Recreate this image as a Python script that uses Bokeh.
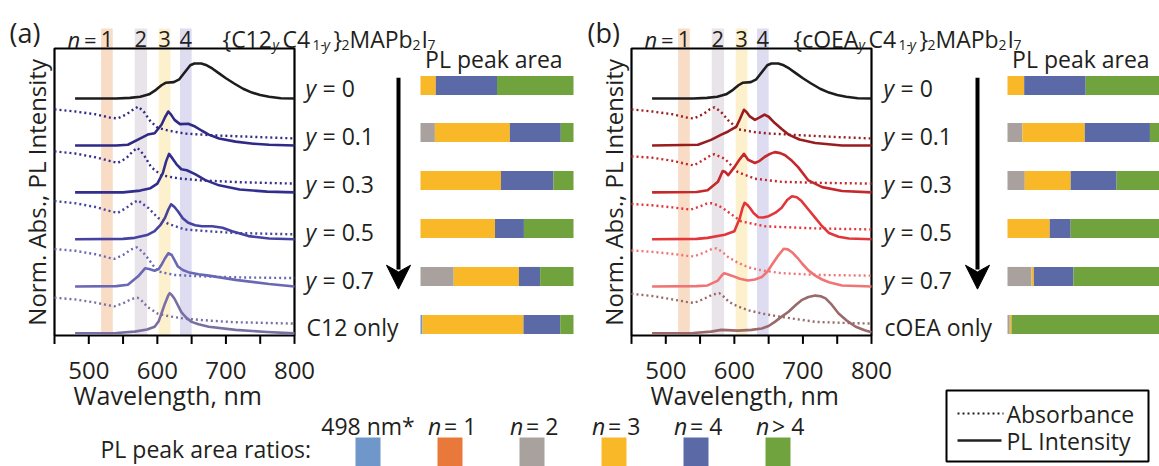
import numpy as np
from bokeh.plotting import figure
from bokeh.models import Range1d
from bokeh.core.properties import value
from bokeh.embed import file_html
from bokeh.resources import INLINE

# ---------------------------------------------------------------- data
# Spectra: (wavelength nm, normalised intensity) pairs, one list per trace.
# Each row of a panel is stacked on its own baseline offset.
ROW_OFFSET = [6.77, 5.43, 4.09, 2.75, 1.40, 0.06]

PL_Y0 = [(480, 0), (540, 0), (560, 0.02), (575, 0.05), (588, 0.12), (598, 0.25),
         (606, 0.38), (612, 0.45), (624, 0.47), (632, 0.55), (640, 0.75), (648, 0.95),
         (654, 1.0), (664, 1.0), (672, 0.95), (680, 0.86), (690, 0.72), (700, 0.58),
         (712, 0.43), (725, 0.28), (738, 0.17), (750, 0.1), (763, 0.05), (780, 0.01), (800, 0)]

# panel (a): {C12_y C4_1-y}2 MAPb2I7
A_ABS_01 = [(450, 1.03), (480, 0.97), (510, 0.89), (530, 0.8), (542, 0.77), (555, 0.89),
            (565, 1.03), (572, 1.11), (580, 0.97), (590, 0.69), (600, 0.51), (615, 0.43),
            (640, 0.34), (680, 0.29), (720, 0.26), (760, 0.23), (800, 0.2)]
A_PL_01 = [(480, 0), (540, 0), (557, 0.02), (576, 0.21), (586, 0.31), (596, 0.35), (606, 0.59),
           (611, 0.8), (616, 0.97), (620, 0.88), (625, 0.73), (633, 0.61), (645, 0.62),
           (655, 0.54), (665, 0.42), (675, 0.31), (690, 0.2), (714, 0.11), (740, 0.05),
           (763, 0.02), (800, 0)]
A_ABS_03 = [(450, 1.17), (480, 1.11), (510, 1.0), (530, 0.9), (542, 0.84), (555, 0.98),
            (564, 1.17), (571, 1.27), (580, 1.08), (591, 0.72), (606, 0.49), (630, 0.4),
            (665, 0.34), (720, 0.29), (800, 0.25)]
A_PL_03 = [(480, 0), (550, 0), (575, 0.05), (590, 0.12), (600, 0.25), (608, 0.55), (613, 0.9),
           (617, 1.1), (622, 0.97), (628, 0.8), (635, 0.66), (643, 0.63), (655, 0.52),
           (670, 0.35), (690, 0.2), (720, 0.08), (760, 0.02), (800, 0)]
A_ABS_05 = [(450, 1.09), (480, 1.03), (510, 0.92), (530, 0.81), (542, 0.75), (555, 0.9),
            (565, 1.05), (572, 1.11), (587, 0.89), (601, 0.61), (616, 0.44), (640, 0.28),
            (680, 0.22), (713, 0.18), (800, 0.14)]
A_PL_05 = [(480, 0), (550, 0.01), (567, 0.04), (585, 0.12), (596, 0.23), (605, 0.42),
           (611, 0.61), (616, 0.85), (620, 1.0), (625, 0.92), (630, 0.8), (637, 0.6),
           (645, 0.47), (655, 0.4), (665, 0.37), (680, 0.37), (695, 0.33), (709, 0.23),
           (733, 0.09), (763, 0.02), (800, 0)]
A_ABS_07 = [(450, 1.07), (480, 1.02), (510, 0.92), (530, 0.82), (537, 0.79), (550, 0.9),
            (562, 1.06), (570, 1.12), (578, 1.0), (586, 0.81), (594, 0.6), (601, 0.43),
            (625, 0.33), (665, 0.29), (720, 0.26), (800, 0.24)]
A_PL_07 = [(480, 0), (540, 0.01), (557, 0.05), (572, 0.29), (582, 0.52), (588, 0.5),
           (596, 0.45), (602, 0.5), (606, 0.62), (611, 0.8), (616, 0.95), (621, 0.9),
           (626, 0.72), (630, 0.57), (637, 0.47), (645, 0.41), (660, 0.35), (675, 0.31),
           (714, 0.19), (763, 0.07), (800, 0)]
A_ABS_ONLY = [(450, 1.02), (480, 0.97), (510, 0.88), (530, 0.8), (537, 0.77), (550, 0.86),
              (562, 0.98), (571, 1.02), (578, 0.92), (586, 0.75), (601, 0.56), (620, 0.48),
              (640, 0.42), (680, 0.36), (713, 0.32), (800, 0.28)]
A_PL_ONLY = [(480, 0), (540, 0.01), (567, 0.05), (585, 0.11), (596, 0.19), (602, 0.35),
             (606, 0.57), (611, 0.85), (616, 1.09), (618, 1.15), (621, 1.1), (625, 0.99),
             (630, 0.8), (635, 0.61), (642, 0.45), (650, 0.33), (660, 0.26), (675, 0.19),
             (714, 0.1), (760, 0.04), (800, 0)]

# panel (b): {cOEA_y C4_1-y}2 MAPb2I7
B_ABS_01 = [(450, 1.03), (480, 0.97), (510, 0.89), (530, 0.8), (541, 0.77), (555, 0.9),
            (564, 1.03), (571, 1.09), (580, 0.97), (592, 0.7), (606, 0.46), (630, 0.38),
            (650, 0.34), (700, 0.29), (750, 0.24), (800, 0.2)]
B_PL_01 = [(480, 0), (547, 0.02), (566, 0.16), (581, 0.31), (591, 0.4), (603, 0.54),
           (608, 0.75), (614, 1.02), (618, 0.95), (622.5, 0.83), (630, 0.73), (637, 0.8),
           (644, 0.88), (650, 0.82), (659, 0.64), (669, 0.47), (679, 0.31), (695, 0.17),
           (718, 0.07), (757, 0.0), (800, 0)]
B_ABS_03 = [(450, 1.03), (480, 0.99), (510, 0.9), (530, 0.81), (541, 0.77), (555, 0.93),
            (565, 1.05), (571, 1.09), (586, 0.96), (596, 0.76), (605, 0.58), (630, 0.39),
            (669, 0.3), (730, 0.27), (800, 0.25)]
B_PL_03 = [(480, 0), (545, 0.01), (561, 0.06), (576, 0.3), (583, 0.61), (587, 0.58),
           (591, 0.49), (600, 0.72), (608, 0.95), (614, 1.1), (620, 0.93), (630, 0.84),
           (637, 0.9), (644, 1.01), (652, 1.1), (659, 1.15), (667, 1.12), (674, 1.06),
           (684, 0.9), (693, 0.72), (708, 0.34), (728, 0.15), (757, 0.04), (800, 0)]
B_ABS_05 = [(450, 1.01), (480, 0.97), (510, 0.91), (530, 0.86), (537, 0.85), (550, 0.94),
            (560, 1.02), (566, 1.03), (576, 0.97), (586, 0.85), (600, 0.65), (610, 0.51),
            (645, 0.37), (718, 0.31), (800, 0.28)]
B_PL_05 = [(480, 0), (545, 0.01), (561, 0.04), (586, 0.13), (600, 0.23), (608, 0.61),
           (612, 0.9), (615, 1.04), (619, 0.98), (622.5, 0.9), (628, 0.75), (635, 0.63),
           (642, 0.62), (650, 0.66), (660, 0.76), (669, 0.9), (677, 1.12), (684, 1.23),
           (691, 1.2), (698, 1.09), (708, 0.85), (718, 0.61), (728, 0.37), (738, 0.18),
           (752, 0.07), (767, 0.02), (800, 0)]
B_ABS_07 = [(450, 1.03), (480, 0.99), (510, 0.93), (530, 0.88), (541, 0.86), (555, 0.96),
            (566, 1.06), (574, 1.09), (583, 0.98), (591, 0.84), (605, 0.68), (620, 0.55),
            (640, 0.46), (669, 0.38), (720, 0.33), (800, 0.31)]
B_PL_07 = [(480, 0), (545, 0.01), (561, 0.03), (576, 0.17), (581, 0.3), (585, 0.38),
           (590, 0.35), (596, 0.31), (608, 0.22), (620, 0.17), (630, 0.2), (640, 0.27),
           (648, 0.42), (654, 0.6), (663, 0.86), (672, 1.08), (678, 1.06), (684, 0.98),
           (692, 0.82), (699, 0.65), (708, 0.46), (718, 0.31), (728, 0.2), (738, 0.12),
           (757, 0.03), (800, 0)]
B_ABS_ONLY = [(450, 1.13), (480, 1.07), (510, 0.97), (530, 0.9), (541, 0.87), (555, 0.98),
              (568, 1.11), (578, 1.15), (585, 1.04), (592, 0.9), (605, 0.77), (620, 0.66),
              (645, 0.55), (669, 0.47), (718, 0.33), (760, 0.3), (800, 0.28)]
B_PL_ONLY = [(480, 0), (540, 0.01), (566, 0.05), (581, 0.1), (605, 0.08), (625, 0.1),
             (640, 0.14), (650, 0.21), (659, 0.33), (669, 0.48), (679, 0.62), (690, 0.82),
             (698, 0.95), (708, 1.04), (718, 1.08), (726, 1.06), (733, 1.0), (742, 0.82),
             (752, 0.57), (765, 0.35), (777, 0.19), (790, 0.09), (800, 0.03)]

A_COLORS = ["#1e1c1d", "#2e2a86", "#322e8d", "#4542a0", "#6a68b4", "#7a6fa3"]
B_COLORS = ["#1e1c1d", "#991d1f", "#c4282b", "#e3363b", "#f07474", "#9a6a6a"]

ROW_LABELS_A = ["0", "0.1", "0.3", "0.5", "0.7", "C12 only"]
ROW_LABELS_B = ["0", "0.1", "0.3", "0.5", "0.7", "cOEA only"]

# quantum-well bands (nm) marking the n = 1..4 excitons
BAND_NAMES = ["1", "2", "3", "4"]
BAND_LO = [518, 567, 602, 633]
BAND_HI = [535, 585, 619, 650]
BAND_COLORS = ["#f9dcc6", "#e9e4e9", "#fdf0cc", "#dedcf0"]

WL_TICKS = [450, 500, 550, 600, 650, 700, 750, 800]
WL_LABELS = [500, 600, 700, 800]

# PL peak-area fractions per composition row (top to bottom)
AREA_CATS = ["498 nm*", "n = 1", "n = 2", "n = 3", "n = 4", "n > 4"]
AREA_COLORS = ["#6f97c9", "#e8793a", "#a8a19d", "#f8b828", "#5b69a6", "#70a23e"]
A_498 = [0, 0, 0, 0, 0, 0.013]
A_N1 = [0, 0, 0, 0, 0, 0]
A_N2 = [0, 0.094, 0, 0, 0.217, 0]
A_N3 = [0.10, 0.49, 0.526, 0.487, 0.426, 0.66]
A_N4 = [0.40, 0.333, 0.343, 0.189, 0.139, 0.24]
A_NBIG = [0.50, 0.083, 0.131, 0.324, 0.218, 0.087]
B_498 = [0, 0, 0, 0, 0, 0]
B_N1 = [0, 0, 0, 0, 0, 0]
B_N2 = [0, 0.098, 0.113, 0, 0.157, 0.015]
B_N3 = [0.109, 0.407, 0.30, 0.276, 0.015, 0.011]
B_N4 = [0.402, 0.426, 0.30, 0.137, 0.259, 0]
B_NBIG = [0.489, 0.069, 0.287, 0.587, 0.569, 0.974]

# ---------------------------------------------------------------- page
W, H = 1159, 466
FONT = "Open Sans"
INK = "#231f20"
DOT = "2 3"

p = figure(width=W, height=H, x_range=Range1d(0, W), y_range=Range1d(H, 0),
           x_axis_type=None, y_axis_type=None, toolbar_location=None,
           output_backend="svg", min_border=0)
p.outline_line_color = None
p.background_fill_color = "white"
p.border_fill_color = "white"


def txt(api, x, y, s, size, align="left", baseline="middle", style="normal", angle=0.0,
        color=INK):
    api.text(x=[x], y=[y], text=[s], text_font=value(FONT), text_font_size=f"{size}px",
             text_align=align, text_baseline=baseline, text_font_style=style,
             angle=angle, text_color=color)


Y_TOP = 8.2  # top of the spectra frame in stacked-intensity units


def spectra_panel(x_left, x_right, traces, colors, tag, tag_x):
    sp = p.subplot(x_source=Range1d(450, 800), y_source=Range1d(0, Y_TOP),
                   x_target=Range1d(x_left, x_right), y_target=Range1d(335, 48))
    # exciton bands
    sp.quad(left=BAND_LO, right=BAND_HI, bottom=0, top=Y_TOP + 0.57,
            fill_color=BAND_COLORS, line_color=None)
    # frame and ticks
    sp.quad(left=[450], right=[800], bottom=[0], top=[Y_TOP], fill_color=None,
            line_color="black", line_width=2.2)
    sp.segment(x0=WL_TICKS, x1=WL_TICKS, y0=0, y1=-0.24, line_color="black", line_width=2)
    sp.text(x=WL_LABELS, y=-1.0, text=[str(v) for v in WL_LABELS], text_font=value(FONT),
            text_font_size="24px", text_align="center", text_baseline="middle",
            text_color=INK)
    txt(sp, 615, -1.7, "Wavelength, nm", 25, align="center")
    txt(sp, 424, 4.09, "Norm. Abs., PL Intensity", 24, align="center", angle=np.pi / 2)
    # band labels
    txt(sp, 469, 8.46, "n", 22, style="italic")
    txt(sp, 493, 8.46, "=", 22)
    sp.text(x=[(lo + hi) / 2 for lo, hi in zip(BAND_LO, BAND_HI)], y=8.46, text=BAND_NAMES,
            text_font=value(FONT), text_font_size="22px", text_align="center",
            text_baseline="middle", text_color=INK)
    txt(p, tag_x, 32, tag, 27)
    # stacked spectra
    for i, (absorb, pl) in enumerate(traces):
        off = ROW_OFFSET[i]
        if absorb is not None:
            wl, v = zip(*absorb)
            sp.line(list(wl), [y + off for y in v], line_color=colors[i], line_width=2.4,
                    line_dash=DOT)
        wl, v = zip(*pl)
        sp.line(list(wl), [y + off for y in v], line_color=colors[i], line_width=2.6,
                line_join="round")


spectra_panel(54, 294,
              [(None, PL_Y0), (A_ABS_01, A_PL_01), (A_ABS_03, A_PL_03), (A_ABS_05, A_PL_05),
               (A_ABS_07, A_PL_07), (A_ABS_ONLY, A_PL_ONLY)], A_COLORS, "(a)", 9)
spectra_panel(631, 871,
              [(None, PL_Y0), (B_ABS_01, B_PL_01), (B_ABS_03, B_PL_03), (B_ABS_05, B_PL_05),
               (B_ABS_07, B_PL_07), (B_ABS_ONLY, B_PL_ONLY)], B_COLORS, "(b)", 587)


def formula(pieces):
    for s, x, sub, ital in pieces:
        txt(p, x, 44 if sub else 38, s, 14 if sub else 23, baseline="alphabetic",
            style="italic" if ital else "normal")


formula([("{C12", 222, False, False), ("y", 272, True, True), ("C4", 282, False, False),
         ("1-", 312, True, False), ("y", 323, True, True), ("}", 333, False, False),
         ("2", 341, True, False), ("MAPb", 349, False, False), ("2", 412, True, False),
         ("I", 421, False, False), ("7", 427, True, False)])
formula([("{cOEA", 793, False, False), ("y", 858, True, True), ("C4", 868, False, False),
         ("1-", 898, True, False), ("y", 909, True, True), ("}", 919, False, False),
         ("2", 927, True, False), ("MAPb", 935, False, False), ("2", 998, True, False),
         ("I", 1007, False, False), ("7", 1013, True, False)])


def area_panel(x_label, x_bar, x_arrow, labels, cols):
    rows = p.subplot(x_source=Range1d(0, W), y_source=Range1d(0, 5),
                     x_target=Range1d(0, W), y_target=Range1d(85, 324))
    bars = p.subplot(x_source=Range1d(0, 1), y_source=Range1d(0, 5),
                     x_target=Range1d(x_bar, x_bar + 153), y_target=Range1d(85, 324))
    txt(bars, 0.03, -0.56, "PL peak area", 23)
    idx = list(range(6))
    left = np.zeros(6)
    for frac, color in zip(cols, AREA_COLORS):
        frac = np.asarray(frac, dtype=float)
        keep = frac > 0
        bars.hbar(y=np.array(idx)[keep], left=left[keep], right=(left + frac)[keep],
                  height=0.4, fill_color=color, line_color=None)
        left = left + frac
    for i, lab in enumerate(labels):
        yy = i + 0.06
        if lab[0].isdigit():
            txt(rows, x_label, yy, "y", 23, style="italic")
            txt(rows, x_label + 17, yy, "= " + lab, 23)
        else:
            txt(rows, x_label + 1, yy, lab, 23)
    # composition arrow
    rows.segment(x0=[x_arrow], x1=[x_arrow], y0=[-0.16], y1=[3.85], line_color="black",
                 line_width=4)
    rows.patch(x=[x_arrow - 12, x_arrow, x_arrow + 12, x_arrow],
               y=[3.76, 4.26, 3.76, 3.9], fill_color="black", line_color="black",
               line_width=1)


area_panel(305, 420, 398, ROW_LABELS_A, [A_498, A_N1, A_N2, A_N3, A_N4, A_NBIG])
area_panel(883, 1007, 977, ROW_LABELS_B, [B_498, B_N1, B_N2, B_N3, B_N4, B_NBIG])

# colour key for the peak-area bars
txt(p, 100, 448, "PL peak area ratios:", 23)
key_x = [367.5 + 82 * i for i in range(len(AREA_CATS))]
p.quad(left=[x - 12.5 for x in key_x], right=[x + 12.5 for x in key_x], top=437, bottom=470,
       fill_color=AREA_COLORS, line_color=None)
txt(p, key_x[0], 425, AREA_CATS[0], 23, align="center")
for x, cat in zip(key_x[1:], AREA_CATS[1:]):
    txt(p, x - 22, 425, "n", 23, style="italic")
    txt(p, x - 6, 425, cat[2:], 23)

# line-style key
p.quad(left=[946], right=[1148], top=[390], bottom=[461], fill_color=None,
       line_color="black", line_width=2)
p.line([957, 1003], [413, 413], line_color=INK, line_width=2.2, line_dash=DOT)
p.line([957, 1001], [440, 440], line_color=INK, line_width=2.4)
txt(p, 1006, 413, "Absorbance", 23)
txt(p, 1006, 440, "PL Intensity", 23)

open("out.html", "w").write(file_html(p, INLINE))
